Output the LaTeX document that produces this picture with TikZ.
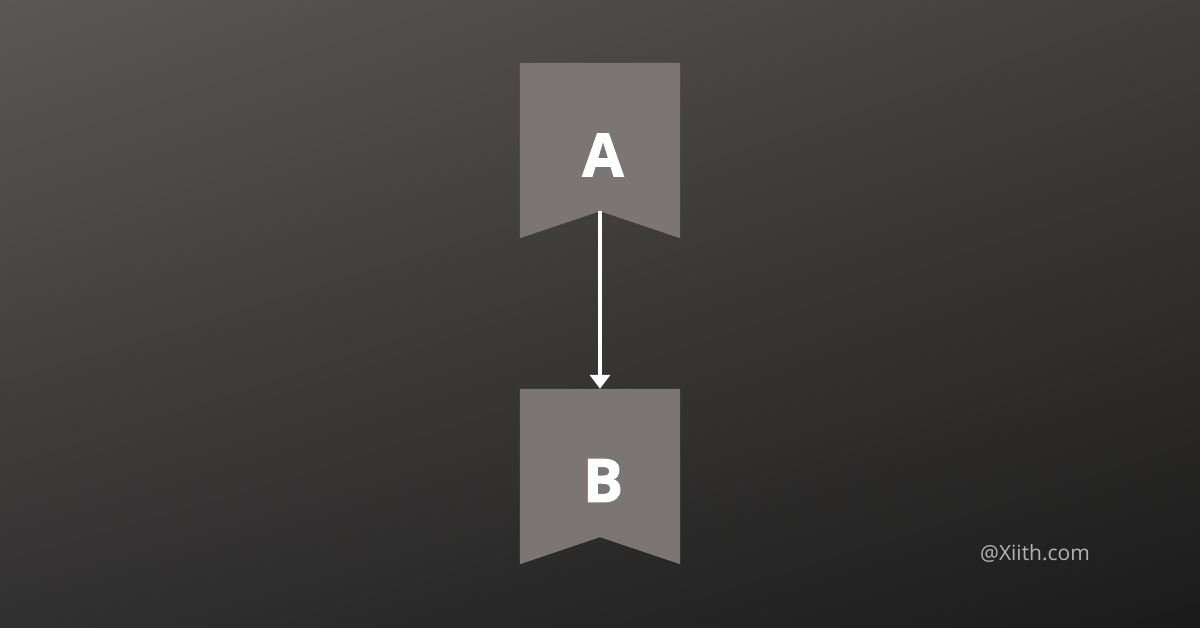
\documentclass[tikz,border=0pt]{standalone}
\usepackage{fontspec}
\setmainfont{Open Sans}
\newfontfamily\heavyfont{Open Sans}[BoldFeatures={FakeBold=1.6}]
\usepackage{tikz}
\usetikzlibrary{arrows.meta,positioning,calc,shadings}

\definecolor{bgtl}{HTML}{5B5755}
\definecolor{bgtr}{HTML}{413E3C}
\definecolor{bgbl}{HTML}{313030}
\definecolor{bgbr}{HTML}{1B1B1B}
\definecolor{markfill}{HTML}{7B7675}
\definecolor{markgray}{HTML}{B4B4B4}

\tikzset{
  bookmark/.style={draw=none, minimum width=160pt, minimum height=175pt, inner sep=0pt},
  letter/.style={text=white, font=\heavyfont\fontsize{60}{60}\selectfont\bfseries, inner sep=0pt},
  flow/.style={draw=white, line width=4pt, -{Triangle[width=20pt,length=14pt]}}
}

\begin{document}
\begin{tikzpicture}[x=1pt,y=-1pt]

% background
\shade[upper left=bgtl, upper right=bgtr, lower left=bgbl, lower right=bgbr] (0,0) rectangle (1200,628);
\useasboundingbox (0,0) rectangle (1200,628);

\node[bookmark] (a) at (600,150.5) {};
\node[bookmark] (b) at (600,476.5) {};

\fill[markfill] (a.north west) -- (a.north east) -- (a.south east) -- ($(a.south)+(0,-27)$) coordinate (anotch) -- (a.south west) -- cycle;
\fill[markfill] (b.north west) -- (b.north east) -- (b.south east) -- ($(b.south)+(0,-27)$) coordinate (bnotch) -- (b.south west) -- cycle;

\node[letter] (la) at (603,155) {A};
\node[letter] (lb) at (603,480.5) {B};

\draw[flow, shorten >=0pt] (anotch) -- (b.north);

\node[text=markgray, font=\fontsize{21}{21}\selectfont, inner sep=0pt] (mark) at (1035,553) {@Xiith.com};
\end{tikzpicture}
\end{document}
